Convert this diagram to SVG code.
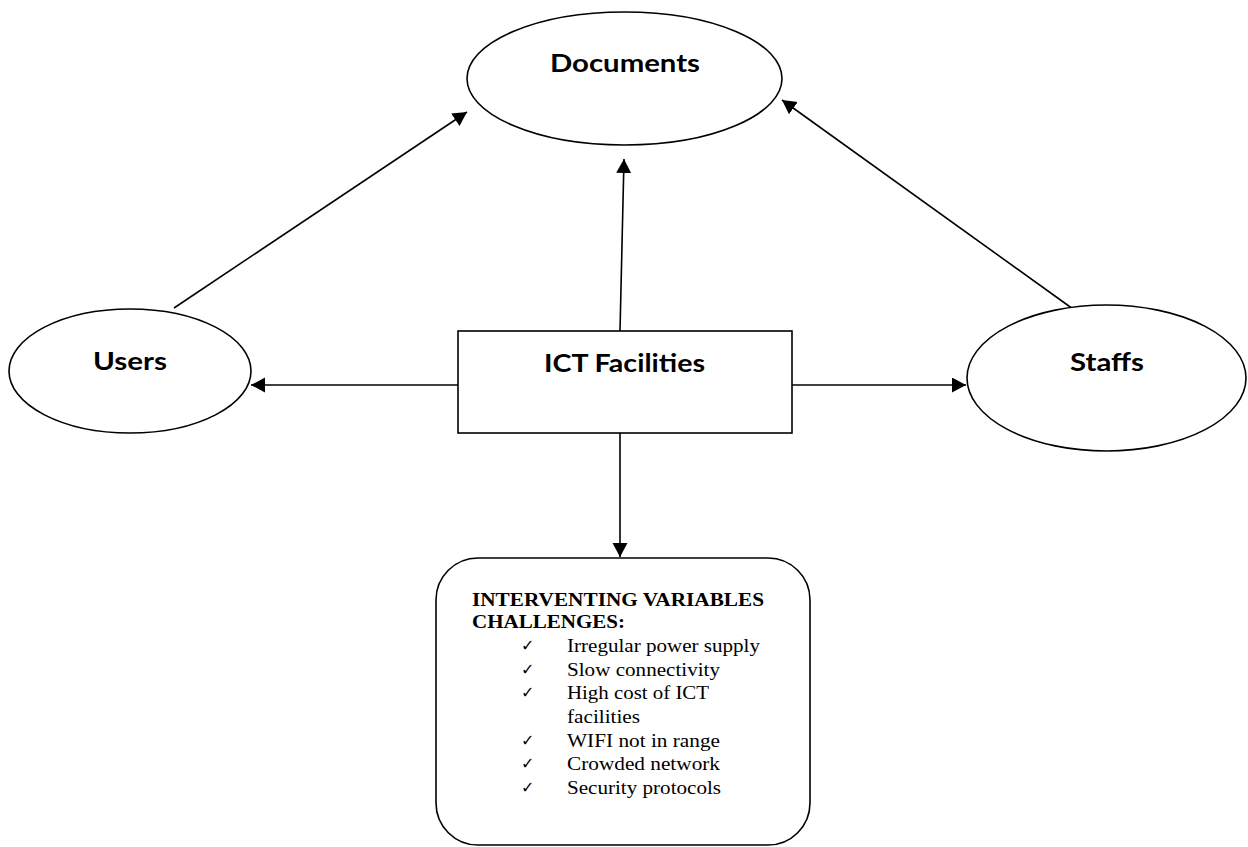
<svg xmlns="http://www.w3.org/2000/svg" width="1248" height="847" viewBox="0 0 1248 847">
<style>
.shape{fill:#fff;stroke:#000;stroke-width:1.6}
.lbl{font-family:Lato,"Open Sans",sans-serif;font-weight:bold;font-size:24px;fill:#000;text-anchor:middle}
.conn{stroke:#000;stroke-width:1.6;fill:none;marker-end:url(#ah)}
.hd{font-family:"Liberation Serif","Times New Roman",serif;font-weight:bold;font-size:19px;fill:#000}
.it{font-family:"Liberation Serif","Times New Roman",serif;font-size:19px;fill:#000}
.ck{font-family:"DejaVu Sans",sans-serif;font-size:16px;fill:#000}
</style>
<defs>
<marker id="ah" markerUnits="userSpaceOnUse" markerWidth="16" markerHeight="16" refX="14" refY="7.5" orient="auto">
<path d="M0,0 L14,7.5 L0,15 Z" fill="#000"/>
</marker>
</defs>
<rect width="1248" height="847" fill="#fff"/>
<g id="connectors">
<line class="conn" x1="458" y1="385" x2="251" y2="385"/>
<line class="conn" x1="792" y1="385" x2="966" y2="385"/>
<line class="conn" x1="620" y1="331" x2="624" y2="159"/>
<line class="conn" x1="620" y1="433" x2="620" y2="557"/>
<line class="conn" x1="174" y1="308" x2="467" y2="112"/>
<line class="conn" x1="1073" y1="309" x2="782" y2="100"/>
</g>
<g id="documents">
<ellipse class="shape" cx="624.5" cy="78.5" rx="157.5" ry="66.5"/>
<text class="lbl" x="625" y="72" textLength="150" lengthAdjust="spacingAndGlyphs">Documents</text>
</g>
<g id="users">
<ellipse class="shape" cx="130" cy="371" rx="121" ry="62"/>
<text class="lbl" x="130" y="370" textLength="74" lengthAdjust="spacingAndGlyphs">Users</text>
</g>
<g id="staffs">
<ellipse class="shape" cx="1106.5" cy="378" rx="139.5" ry="73"/>
<text class="lbl" x="1107" y="371" textLength="74" lengthAdjust="spacingAndGlyphs">Staffs</text>
</g>
<g id="ict-facilities">
<rect class="shape" x="458" y="331" width="334" height="102"/>
<text class="lbl" x="624.5" y="372" textLength="161" lengthAdjust="spacingAndGlyphs">ICT Facilities</text>
</g>
<g id="challenges">
<rect class="shape" x="436" y="558" width="374" height="287" rx="42" ry="42"/>
<text class="hd" x="472" y="606" textLength="292" lengthAdjust="spacingAndGlyphs">INTERVENTING VARIABLES</text>
<text class="hd" x="472" y="628" textLength="153" lengthAdjust="spacingAndGlyphs">CHALLENGES:</text>
<text class="ck" x="521" y="651">✓</text>
<text class="it" x="567" y="652" textLength="193" lengthAdjust="spacingAndGlyphs">Irregular power supply</text>
<text class="ck" x="521" y="675">✓</text>
<text class="it" x="567" y="676" textLength="153" lengthAdjust="spacingAndGlyphs">Slow connectivity</text>
<text class="ck" x="521" y="698">✓</text>
<text class="it" x="567" y="699" textLength="142" lengthAdjust="spacingAndGlyphs">High cost of ICT</text>
<text class="it" x="567" y="723" textLength="73" lengthAdjust="spacingAndGlyphs">facilities</text>
<text class="ck" x="521" y="746">✓</text>
<text class="it" x="567" y="747" textLength="153" lengthAdjust="spacingAndGlyphs">WIFI not in range</text>
<text class="ck" x="521" y="769">✓</text>
<text class="it" x="567" y="770" textLength="153" lengthAdjust="spacingAndGlyphs">Crowded network</text>
<text class="ck" x="521" y="793">✓</text>
<text class="it" x="567" y="794" textLength="154" lengthAdjust="spacingAndGlyphs">Security protocols</text>
</g>
</svg>
